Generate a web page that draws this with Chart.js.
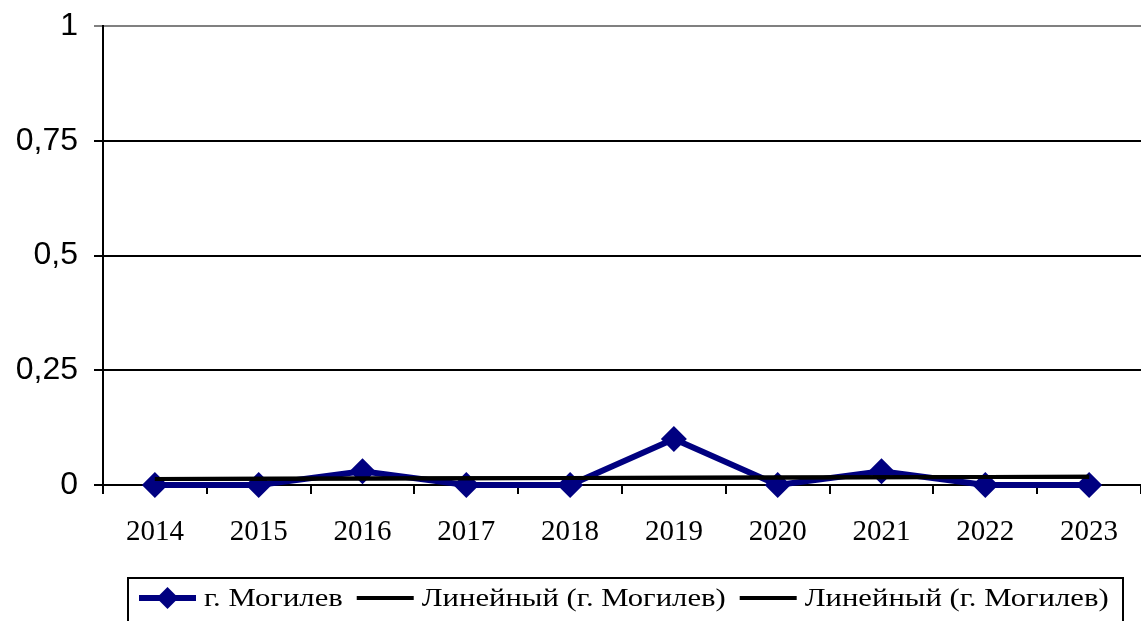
<!DOCTYPE html>
<html>
<head>
<meta charset="utf-8">
<script src="https://cdn.jsdelivr.net/npm/chart.js@4.4.1/dist/chart.umd.min.js"></script>
<style>
  html, body { margin: 0; padding: 0; background: #fff; overflow: hidden; }
  #wrap { width: 1141px; height: 621px; }
  canvas { display: block; }
</style>
</head>
<body>
<div id="wrap"><canvas id="myChart"></canvas></div>
<script>
const years = ["2014", "2015", "2016", "2017", "2018", "2019", "2020", "2021", "2022", "2023"];
const mogilev = [0, 0, 0.03, 0, 0, 0.1, 0, 0.03, 0, 0];
// trend line read at first and last year, gap spanned in between
const trend = [0.013, null, null, null, null, null, null, null, null, 0.018];
const yTicks = [0, 0.25, 0.5, 0.75, 1];
const legendLabels = ["г. Могилев", "Линейный (г. Могилев)", "Линейный (г. Могилев)"];

const ctx = document.getElementById("myChart");

// legend drawn by hand: Excel style box with line samples
const legendBox = {
  id: "legendBox",
  afterDraw(chart) {
    const c = chart.ctx;
    const top = 578, bottom = 625, left = 128, right = 1123;
    const midY = 598;
    const stretch = 1.18;
    c.save();
    c.strokeStyle = "#000";
    c.lineWidth = 2;
    c.strokeRect(left, top, right - left, bottom - top);
    c.font = "26px 'Liberation Serif', 'Times New Roman', serif";
    c.textBaseline = "middle";
    c.fillStyle = "#000";
    let x = left + 11;
    legendLabels.forEach((txt, i) => {
      c.beginPath();
      c.moveTo(x, midY);
      c.lineTo(x + 57, midY);
      c.lineWidth = i === 0 ? 6 : 4;
      c.strokeStyle = i === 0 ? "#000080" : "#000";
      c.stroke();
      if (i === 0) {
        c.beginPath();
        c.moveTo(x + 28.5, midY - 11);
        c.lineTo(x + 39.5, midY);
        c.lineTo(x + 28.5, midY + 11);
        c.lineTo(x + 17.5, midY);
        c.closePath();
        c.fillStyle = "#000080";
        c.fill();
        c.fillStyle = "#000";
      }
      x += 65;
      c.save();
      c.translate(x, midY + 1);
      c.scale(stretch, 1);
      c.fillText(txt, 0, 0);
      c.restore();
      x += c.measureText(txt).width * stretch + 14;
    });
    c.restore();
  },
};

new Chart(ctx, {
  type: "line",
  data: {
    labels: years,
    datasets: [
      {
        label: legendLabels[1],
        data: trend,
        borderColor: "#000",
        borderWidth: 4,
        pointRadius: 0,
        spanGaps: true,
        order: 0,
      },
      {
        label: legendLabels[2],
        data: trend,
        borderColor: "#000",
        borderWidth: 4,
        pointRadius: 0,
        spanGaps: true,
        order: 0,
      },
      {
        label: legendLabels[0],
        data: mogilev,
        borderColor: "#000080",
        backgroundColor: "#000080",
        borderWidth: 6,
        pointStyle: "rectRot",
        pointRadius: 13,
        pointBackgroundColor: "#000080",
        pointBorderWidth: 0,
        tension: 0,
        clip: false,
        order: 1,
      },
    ],
  },
  options: {
    responsive: true,
    maintainAspectRatio: false,
    animation: false,
    layout: { autoPadding: false, padding: { top: 26, right: -8, left: 0, bottom: 46 } },
    plugins: {
      legend: { display: false },
      tooltip: { enabled: false },
    },
    scales: {
      x: {
        offset: true,
        grid: {
          offset: true,
          drawOnChartArea: false,
          color: "#000",
          lineWidth: 2,
          tickLength: 9,
        },
        border: { color: "#000", width: 2 },
        ticks: {
          color: "#000",
          padding: 21,
          maxRotation: 0,
          font: { family: "'Liberation Serif', 'Times New Roman', serif", size: 29 },
        },
        afterFit(scale) {
          scale.height = 90;
          scale.paddingLeft = 0;
          scale.paddingRight = 0;
        },
      },
      y: {
        min: 0,
        max: 1,
        afterBuildTicks(scale) {
          scale.ticks = yTicks.map((v) => ({ value: v }));
        },
        grid: {
          color: (c) => (c.tick && c.tick.value === 1 ? "#808080" : "#000"),
          lineWidth: 2,
          tickLength: 9,
        },
        border: { color: "#000", width: 2 },
        ticks: {
          color: "#000",
          padding: 16,
          font: { family: "'Liberation Sans', Arial, sans-serif", size: 32 },
          callback: (v) => String(v).replace(".", ","),
        },
        afterFit(scale) {
          scale.width = 103;
          scale.paddingTop = 0;
          scale.paddingBottom = 0;
        },
      },
    },
  },
  plugins: [legendBox],
});
</script>
</body>
</html>
